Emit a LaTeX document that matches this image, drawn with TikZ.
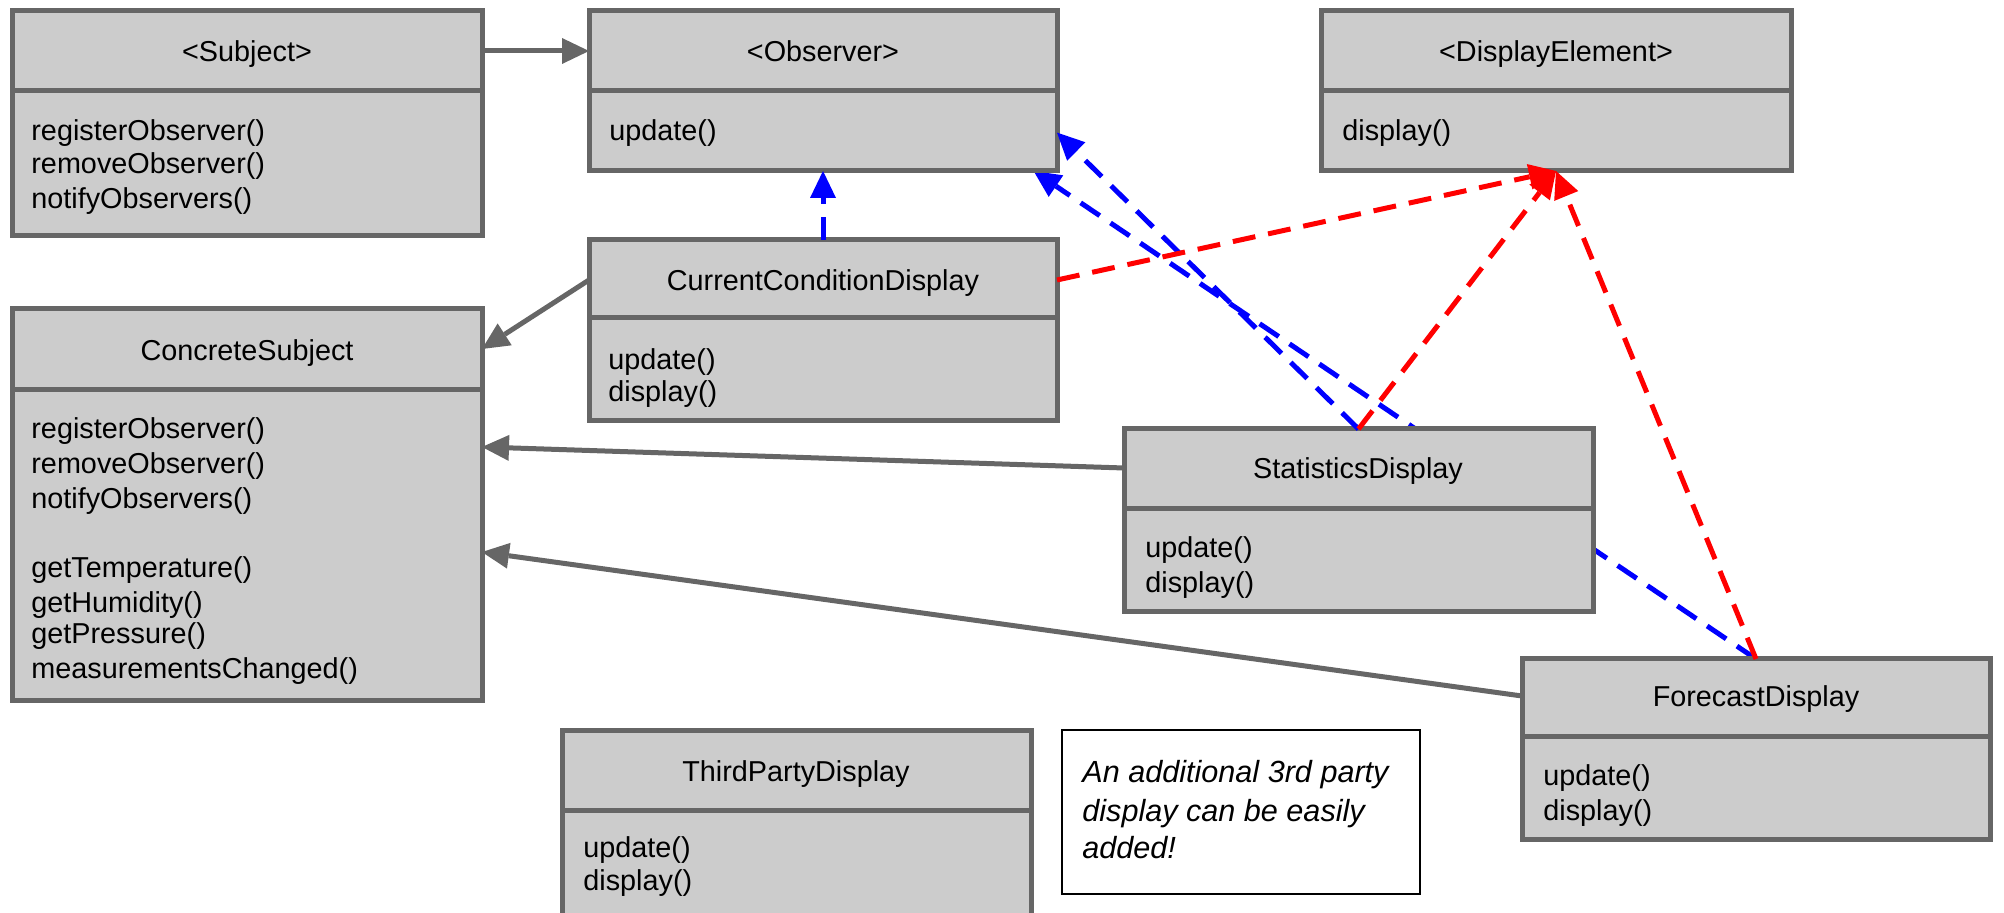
\documentclass[tikz,border=0pt]{standalone}
\usepackage{fontspec}
\setmainfont{Liberation Sans}
\usetikzlibrary{arrows.meta,calc,backgrounds}

\definecolor{umlgray}{RGB}{102,102,102}
\definecolor{umlfill}{RGB}{204,204,204}
\definecolor{umlblue}{RGB}{0,0,255}
\definecolor{umlred}{RGB}{255,0,0}

\tikzset{
  cls/.style={rectangle, draw=umlgray, fill=umlfill, line width=2.5pt, inner sep=0pt, outer sep=0pt},
  divider/.style={draw=umlgray, line width=2.5pt},
  lbl/.style={inner sep=0pt, text height=0.75em, text depth=0.22em, font=\fontsize{14.4}{17}\selectfont},
  meth/.style={lbl, anchor=west},
  notebox/.style={rectangle, draw=black, fill=white, line width=1pt, inner sep=0pt, outer sep=0pt},
  notetext/.style={inner sep=0pt, anchor=west, text height=0.75em, text depth=0.22em, font=\fontsize{15.3}{18}\selectfont\itshape},
  tipshape/.style={-{Triangle[length=13.5pt,width=13pt,line width=0pt]}},
  assoc/.style={tipshape, draw=umlgray, line width=2.5pt},
  realize/.style={tipshape, draw=umlblue, line width=2.5pt, dash pattern=on 11.5pt off 6.5pt},
  showsit/.style={tipshape, draw=umlred, line width=2.5pt, dash pattern=on 11.5pt off 6.5pt},
}

% class box: name, left, top, right, bottom, divider
\newcommand{\umlclass}[6]{%
  \node[cls, minimum width={(#4-#2)*0.5pt}, minimum height={(#5-#3)*0.5pt}] (#1) at ({(#2+#4)/2},{(#3+#5)/2}) {};
  \draw[divider] (#2,#6) -- (#4,#6);
}

\begin{document}
\begin{tikzpicture}[x=0.5pt,y=-0.5pt]
\useasboundingbox (0,0) rectangle (2004,913);
\clip (0,0) rectangle (2004,913);

% ---- classes ----
\umlclass{subj}{12}{11}{482}{236}{91}
\node[lbl] (subjT) at (247,56) {<Subject>};
\node[meth] (subjM1) at (31,135) {registerObserver()};
\node[meth] (subjM2) at (31,168) {removeObserver()};
\node[meth] (subjM3) at (31,203) {notifyObservers()};

\umlclass{obs}{589}{11}{1057}{171}{91}
\node[lbl] (obsT) at (823,56) {<Observer>};
\node[meth] (obsM1) at (609,135) {update()};

\umlclass{de}{1321}{11}{1791}{171}{91}
\node[lbl] (deT) at (1556,56) {<DisplayElement>};
\node[meth] (deM1) at (1342,135) {display()};

\umlclass{ccd}{589}{240}{1057}{421}{318}
\node[lbl] (ccdT) at (823,285) {CurrentConditionDisplay};
\node[meth] (ccdM1) at (608,364) {update()};
\node[meth] (ccdM2) at (608,396) {display()};

\umlclass{csub}{12}{309}{482}{701}{390}
\node[lbl] (csubT) at (247,355) {ConcreteSubject};
\node[meth] (csubM1) at (31,433) {registerObserver()};
\node[meth] (csubM2) at (31,468) {removeObserver()};
\node[meth] (csubM3) at (31,503) {notifyObservers()};
\node[meth] (csubM4) at (31,572) {getTemperature()};
\node[meth] (csubM5) at (31,607) {getHumidity()};
\node[meth] (csubM6) at (31,638) {getPressure()};
\node[meth] (csubM7) at (31,673) {measurementsChanged()};

\umlclass{stats}{1124}{429}{1593}{612}{509}
\node[lbl] (statsT) at (1358,473) {StatisticsDisplay};
\node[meth] (statsM1) at (1145,552) {update()};
\node[meth] (statsM2) at (1145,587) {display()};

\umlclass{fc}{1522}{659}{1990}{840}{737}
\node[lbl] (fcT) at (1756,701) {ForecastDisplay};
\node[meth] (fcM1) at (1543,780) {update()};
\node[meth] (fcM2) at (1543,815) {display()};

\umlclass{tpd}{562}{731}{1031}{990}{811}
\node[lbl] (tpdT) at (796,776) {ThirdPartyDisplay};
\node[meth] (tpdM1) at (583,852) {update()};
\node[meth] (tpdM2) at (583,885) {display()};

% ---- note ----
\node[notebox, minimum width={358*0.5pt}, minimum height={164*0.5pt}] (note) at (1241,812) {};
\node[notetext] (noteL1) at (1082,777) {An additional 3rd party};
\node[notetext] (noteL2) at (1082,816) {display can be easily};
\node[notetext] (noteL3) at (1082,853) {added!};

% ---- connection points on box edges ----
\coordinate (subjR) at ($(subj.east |- subjT)+(0,-5)$);
\coordinate (obsL) at ($(obs.west |- subjT)+(0,-5)$);
\coordinate (ccdL) at ($(ccd.west |- ccdT)+(0,-5)$);
\coordinate (ccdR) at ($(ccd.east |- ccdT)+(0,-5)$);
\coordinate (csubR0) at ($(csub.east |- csubT)+(0,-6)$);
\coordinate (statsL) at ($(stats.west |- statsT)+(0,-5)$);
\coordinate (fcL) at ($(fc.west |- fcT)+(0,-5)$);
\coordinate (obsR) at ($(obs.north east)!0.76!(obs.south east)$);
\coordinate (obsB) at ($(obs.south west)!0.95!(obs.south east)$);
\coordinate (csubR1) at ($(csub.north east)!0.352!(csub.south east)$);
\coordinate (csubR2) at ($(csub.north east)!0.62!(csub.south east)$);

% forecast -> observer runs behind the statistics box
\begin{pgfonlayer}{background}
\draw[realize] (fc.north) -- (obsB);
\end{pgfonlayer}

% ---- associations ----
\draw[assoc] (subjR) -- (obsL);
\draw[assoc] (ccdL) -- (csubR0);
\draw[assoc] (statsL) -- (csubR1);
\draw[assoc] (fcL) -- (csubR2);

% ---- observer realizations ----
\draw[realize] (ccd.north) -- (obs.south);
\draw[realize] (stats.north) -- (obsR);

% ---- display element realizations ----
\draw[showsit] (ccdR) -- (de.south);
\draw[showsit] (stats.north) -- (de.south);
\draw[showsit] (fc.north) -- (de.south);
\end{tikzpicture}
\end{document}
